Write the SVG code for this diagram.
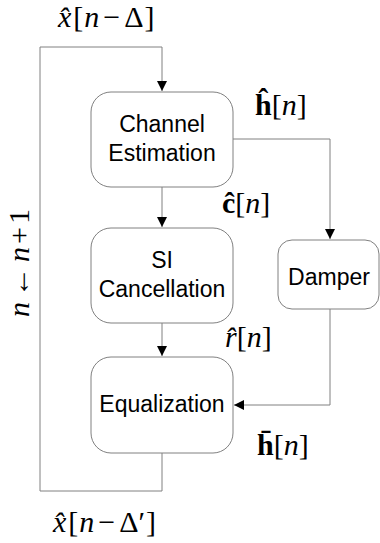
<svg xmlns="http://www.w3.org/2000/svg" width="380" height="543" viewBox="0 0 380 543">
<defs>
<marker id="ah" markerWidth="10" markerHeight="10" refX="10" refY="5" orient="auto" markerUnits="userSpaceOnUse">
<path d="M0,0 L10,5 L0,10 z" fill="#000"/>
</marker>
<style>
.box{fill:#fff;stroke:#808080;stroke-width:1}
.lbl{font-family:"Liberation Sans",Arial,sans-serif;font-size:23px;fill:#000;text-anchor:middle}
.math{font-family:"Liberation Serif","Times New Roman",serif;font-size:30px;fill:#000}
.it{font-style:italic}
.bf{font-weight:bold}
.conn{fill:none;stroke:#808080;stroke-width:1}
</style>
</defs>
<rect width="380" height="543" fill="#fff"/>
<g id="connectors">
<path class="conn" d="M162,453 V491 H40 V47 H162 V91" marker-end="url(#ah)"/>
<path class="conn" d="M162,187 V227" marker-end="url(#ah)"/>
<path class="conn" d="M162,323 V356" marker-end="url(#ah)"/>
<path class="conn" d="M233,139 H330 V239" marker-end="url(#ah)"/>
<path class="conn" d="M330,309 V405 H234" marker-end="url(#ah)"/>
</g>
<g id="channel">
<rect class="box" x="91" y="92" width="142" height="95" rx="20"/>
<text class="lbl" x="162" y="132">Channel</text>
<text class="lbl" x="162" y="161">Estimation</text>
</g>
<g id="si">
<rect class="box" x="91" y="228" width="142" height="95" rx="20"/>
<text class="lbl" x="162" y="268">SI</text>
<text class="lbl" x="162" y="297">Cancellation</text>
</g>
<g id="equalization">
<rect class="box" x="91" y="357" width="142" height="96" rx="20"/>
<text class="lbl" x="162" y="412">Equalization</text>
</g>
<g id="damper">
<rect class="box" x="278" y="240" width="101" height="69" rx="14"/>
<text class="lbl" x="329" y="285">Damper</text>
</g>
<g id="labels">
<text class="math" x="58" y="27" font-size="29"><tspan class="it">x̂</tspan><tspan dx="2">[</tspan><tspan class="it" dx="1">n</tspan><tspan dx="4">−</tspan><tspan dx="4">Δ</tspan><tspan dx="1">]</tspan></text>
<text class="math" x="255" y="115"><tspan class="bf">ĥ</tspan>[<tspan class="it">n</tspan>]</text>
<text class="math" x="222" y="213"><tspan class="bf">ĉ</tspan>[<tspan class="it">n</tspan>]</text>
<text class="math" x="225" y="347"><tspan class="it">r̂</tspan>[<tspan class="it">n</tspan>]</text>
<text class="math" x="257" y="455"><tspan class="bf">h̄</tspan>[<tspan class="it">n</tspan>]</text>
<text class="math" x="53" y="532"><tspan class="it">x̂</tspan><tspan dx="2">[</tspan><tspan class="it" dx="1">n</tspan><tspan dx="4">−</tspan><tspan dx="4">Δ′</tspan><tspan dx="1">]</tspan></text>
<text class="math" transform="translate(29,263) rotate(-90)" text-anchor="middle" font-size="29"><tspan class="it">n</tspan><tspan dx="5">←</tspan><tspan class="it" dx="5">n</tspan><tspan dx="3">+</tspan><tspan dx="3">1</tspan></text>
</g>
</svg>
